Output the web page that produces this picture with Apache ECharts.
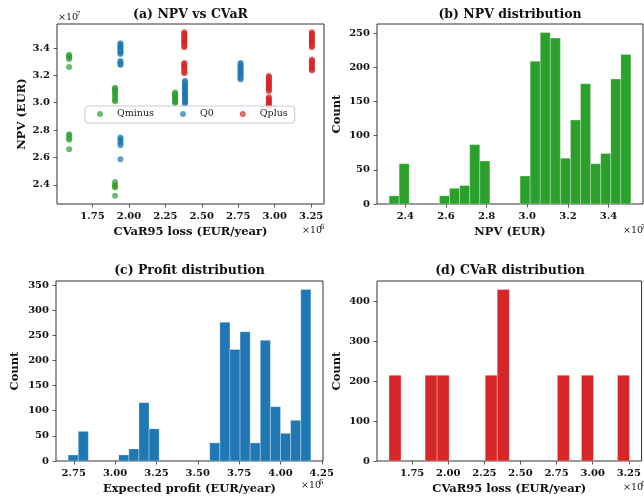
<!DOCTYPE html>
<html>
<head>
<meta charset="utf-8">
<script src="https://cdn.jsdelivr.net/npm/echarts@6/dist/echarts.min.js"></script>
<style>
  html, body { margin: 0; padding: 0; background: #fff; }
  #chart { width: 644px; height: 497px; }
</style>
</head>
<body>
<div id="chart"></div>
<script>
// ---------------- DATA (CVaR in 1e6 EUR/year, NPV in 1e7 EUR, profit in 1e6 EUR/year) ----------------
const seriesNames = ['Qminus', 'Q0', 'Qplus'];

const qminusPoints = [
  [1.59, 3.35], [1.59, 3.34], [1.59, 3.33], [1.59, 3.32], [1.59, 3.26],
  [1.59, 2.77], [1.59, 2.76], [1.59, 2.74], [1.59, 2.73], [1.59, 2.66],
  [1.905, 3.11], [1.905, 3.10], [1.905, 3.09], [1.905, 3.08], [1.905, 3.065],
  [1.905, 3.05], [1.905, 3.035], [1.905, 3.02], [1.905, 3.01],
  [1.905, 2.42], [1.905, 2.40], [1.905, 2.39], [1.905, 2.38], [1.905, 2.32],
  [2.317, 3.075], [2.317, 3.065], [2.317, 3.055], [2.317, 3.045], [2.317, 3.035],
  [2.317, 3.025], [2.317, 3.015], [2.317, 3.005], [2.317, 2.997]
];
const q0Points = [
  [1.942, 3.435], [1.942, 3.425], [1.942, 3.415], [1.942, 3.405], [1.942, 3.395],
  [1.942, 3.385], [1.942, 3.375], [1.942, 3.365], [1.942, 3.355],
  [1.942, 3.305], [1.942, 3.295], [1.942, 3.285], [1.942, 3.275],
  [1.942, 2.745], [1.942, 2.735], [1.942, 2.72], [1.942, 2.705], [1.942, 2.69], [1.942, 2.587],
  [2.385, 3.16], [2.385, 3.15], [2.385, 3.14], [2.385, 3.13], [2.385, 3.12], [2.385, 3.11],
  [2.385, 3.10], [2.385, 3.09], [2.385, 3.08], [2.385, 3.07], [2.385, 3.06], [2.385, 3.05],
  [2.385, 3.04], [2.385, 3.03], [2.385, 3.02], [2.385, 3.01], [2.385, 3.00], [2.385, 2.995],
  [2.766, 3.29], [2.766, 3.28], [2.766, 3.27], [2.766, 3.26], [2.766, 3.25], [2.766, 3.24],
  [2.766, 3.23], [2.766, 3.22], [2.766, 3.21], [2.766, 3.20], [2.766, 3.19], [2.766, 3.18], [2.766, 3.17]
];
const qplusPoints = [
  [2.38, 3.515], [2.38, 3.505], [2.38, 3.495], [2.38, 3.485], [2.38, 3.475], [2.38, 3.465],
  [2.38, 3.455], [2.38, 3.445], [2.38, 3.435], [2.38, 3.425], [2.38, 3.415], [2.38, 3.405],
  [2.38, 3.29], [2.38, 3.28], [2.38, 3.27], [2.38, 3.26], [2.38, 3.25], [2.38, 3.24], [2.38, 3.225], [2.38, 3.215],
  [2.96, 3.195], [2.96, 3.185], [2.96, 3.175], [2.96, 3.165], [2.96, 3.155], [2.96, 3.145],
  [2.96, 3.135], [2.96, 3.125], [2.96, 3.115], [2.96, 3.105], [2.96, 3.095], [2.96, 3.085],
  [2.96, 3.04], [2.96, 3.03], [2.96, 3.02], [2.96, 3.01], [2.96, 3.00], [2.96, 2.99], [2.96, 2.98], [2.96, 2.97],
  [3.255, 3.515], [3.255, 3.505], [3.255, 3.495], [3.255, 3.485], [3.255, 3.475], [3.255, 3.465],
  [3.255, 3.455], [3.255, 3.445], [3.255, 3.435], [3.255, 3.425], [3.255, 3.415], [3.255, 3.405],
  [3.255, 3.315], [3.255, 3.305], [3.255, 3.295], [3.255, 3.285], [3.255, 3.275], [3.255, 3.265],
  [3.255, 3.255], [3.255, 3.245], [3.255, 3.235]
];

// Histograms: data range (first/last bin edge) and counts per bin
const npvRange = [2.32, 3.51];
const npvCounts = [12, 59, 0, 0, 0, 12, 23, 27, 87, 63, 0, 0, 0, 41, 209, 251, 243, 67, 123, 176, 59, 74, 183, 219];
const profitRange = [2.716, 4.184];
const profitCounts = [12, 59, 0, 0, 0, 12, 24, 116, 64, 0, 0, 0, 0, 0, 36, 276, 222, 257, 36, 240, 108, 55, 81, 341];
const cvarRange = [1.59, 3.255];
const cvarCounts = [215, 0, 0, 215, 215, 0, 0, 0, 215, 430, 0, 0, 0, 0, 215, 0, 215, 0, 0, 215];

// Tick labels
const aXTicks = [1.75, 2.00, 2.25, 2.50, 2.75, 3.00, 3.25];
const aYTicks = [2.4, 2.6, 2.8, 3.0, 3.2, 3.4];
const bXTicks = [2.4, 2.6, 2.8, 3.0, 3.2, 3.4];
const bYTicks = [0, 50, 100, 150, 200, 250];
const cXTicks = [2.75, 3.00, 3.25, 3.50, 3.75, 4.00, 4.25];
const cYTicks = [0, 50, 100, 150, 200, 250, 300, 350];
const dXTicks = [1.75, 2.00, 2.25, 2.50, 2.75, 3.00, 3.25];
const dYTicks = [0, 100, 200, 300, 400];

// ---------------- BUILD ----------------
const FONT = 'DejaVu Serif';
const C_GREEN = '#2ca02c', C_BLUE = '#1f77b4', C_RED = '#d62728';
const TICK_FS = 10;
const NAME_FS = 11.5;

function pad(lo, hi) { const m = (hi - lo) * 0.05; return [lo - m, hi + m]; }
function edges(range, n) {
  const w = (range[1] - range[0]) / n;
  return Array.from({ length: n }, (_, i) => [range[0] + i * w, range[0] + (i + 1) * w]);
}
function histData(range, counts) {
  const e = edges(range, counts.length);
  return counts.map((c, i) => [e[i][0], e[i][1], c]);
}

const allPts = qminusPoints.concat(q0Points, qplusPoints);
const aX = pad(Math.min(...allPts.map(p => p[0])), Math.max(...allPts.map(p => p[0])));
const aY = pad(Math.min(...allPts.map(p => p[1])), Math.max(...allPts.map(p => p[1])));

const grids = [
  { left: 57, top: 24, width: 267, height: 180 },
  { left: 377, top: 24, width: 266, height: 180 },
  { left: 56, top: 281, width: 267, height: 180 },
  { left: 377, top: 281, width: 266, height: 180 }
].map(g => Object.assign({ show: true, borderColor: '#333', borderWidth: 1, containLabel: false, backgroundColor: 'transparent' }, g));

function valueAxis(gridIndex, range, ticks, dec, name, nameGap) {
  return {
    type: 'value', gridIndex,
    min: range[0], max: range[1],
    axisLine: { show: false },
    axisTick: { show: true, inside: false, length: 3.5, customValues: ticks, lineStyle: { color: '#333', width: 0.8 } },
    axisLabel: {
      show: true, customValues: ticks, margin: 7,
      formatter: v => dec < 0 ? String(Math.round(v)) : v.toFixed(dec),
      fontFamily: FONT, fontWeight: 'bold', fontSize: TICK_FS, color: '#111',
      showMinLabel: true, showMaxLabel: true, hideOverlap: false
    },
    splitLine: { show: false },
    name, nameLocation: 'middle', nameGap,
    nameTextStyle: { fontFamily: FONT, fontWeight: 'bold', fontSize: NAME_FS, color: '#111' }
  };
}

const bX = pad(npvRange[0], npvRange[1]);
const cX = pad(profitRange[0], profitRange[1]);
const dX = pad(cvarRange[0], cvarRange[1]);

const xAxes = [
  valueAxis(0, aX, aXTicks, 2, 'CVaR95 loss (EUR/year)', 22),
  valueAxis(1, bX, bXTicks, 1, 'NPV (EUR)', 22),
  valueAxis(2, cX, cXTicks, 2, 'Expected profit (EUR/year)', 22),
  valueAxis(3, dX, dXTicks, 2, 'CVaR95 loss (EUR/year)', 22)
];
const yAxes = [
  valueAxis(0, aY, aYTicks, 1, 'NPV (EUR)', 29),
  valueAxis(1, [0, Math.max(...npvCounts) * 1.05], bYTicks, -1, 'Count', 34),
  valueAxis(2, [0, Math.max(...profitCounts) * 1.05], cYTicks, -1, 'Count', 35),
  valueAxis(3, [0, Math.max(...cvarCounts) * 1.05], dYTicks, -1, 'Count', 34)
];

function histSeries(idx, range, counts, color) {
  return {
    type: 'custom', xAxisIndex: idx, yAxisIndex: idx,
    data: histData(range, counts),
    encode: { x: [0, 1], y: 2 },
    silent: true,
    renderItem: function (params, api) {
      const c = api.value(2);
      if (!c) return null;
      const p0 = api.coord([api.value(0), c]);
      const p1 = api.coord([api.value(1), 0]);
      return {
        type: 'rect',
        shape: { x: p0[0], y: p0[1], width: p1[0] - p0[0], height: p1[1] - p0[1] },
        style: { fill: color, stroke: 'rgba(255,255,255,0.6)', lineWidth: 0.5 }
      };
    }
  };
}

function scatterSeries(name, pts, color) {
  return {
    type: 'scatter', name, xAxisIndex: 0, yAxisIndex: 0,
    data: pts, symbol: 'circle', symbolSize: 6,
    itemStyle: { color, opacity: 0.7 },
    emphasis: { disabled: true }
  };
}

function txt(x, y, text, opts) {
  return {
    type: 'text', x, y, silent: true,
    style: Object.assign({ text, fontFamily: FONT, fontSize: 12.5, fontWeight: 'bold', fill: '#111', align: 'center', verticalAlign: 'middle' }, opts || {})
  };
}
function offsetText(xRight, y, exp, alignLeft) {
  // "×10" followed by a superscript exponent
  const mainW = 18;
  const xStart = alignLeft ? xRight : xRight - mainW - 5;
  return [
    txt(xStart, y, '×10', { fontWeight: 'normal', fontSize: 9.5, align: 'left' }),
    txt(xStart + mainW, y - 4, exp, { fontWeight: 'normal', fontSize: 7, align: 'left' })
  ];
}

const graphics = [
  txt(190.5, 15, '(a) NPV vs CVaR'),
  txt(510, 15, '(b) NPV distribution'),
  txt(189.5, 271, '(c) Profit distribution'),
  txt(510, 271, '(d) CVaR distribution')
].concat(
  offsetText(58, 18, '7', true),
  offsetText(325, 231, '6'),
  offsetText(646, 231, '7'),
  offsetText(324, 486, '6'),
  offsetText(646, 488, '6')
);

const option = {
  animation: false,
  backgroundColor: '#fff',
  grid: grids,
  xAxis: xAxes,
  yAxis: yAxes,
  legend: {
    data: seriesNames, left: 85, top: 106, orient: 'horizontal',
    icon: 'circle', itemWidth: 24, itemHeight: 6, itemGap: 26,
    padding: [3, 7, 4, 12], borderColor: '#ccc', borderWidth: 1, borderRadius: 3,
    backgroundColor: 'rgba(255,255,255,0.85)',
    textStyle: { fontFamily: FONT, fontSize: 9.5, color: '#222' },
    selectedMode: false
  },
  graphic: graphics,
  series: [
    scatterSeries(seriesNames[0], qminusPoints, C_GREEN),
    scatterSeries(seriesNames[1], q0Points, C_BLUE),
    scatterSeries(seriesNames[2], qplusPoints, C_RED),
    histSeries(1, npvRange, npvCounts, C_GREEN),
    histSeries(2, profitRange, profitCounts, C_BLUE),
    histSeries(3, cvarRange, cvarCounts, C_RED)
  ]
};

const chart = echarts.init(document.getElementById('chart'), null, { renderer: 'canvas' });
chart.setOption(option);
</script>
</body>
</html>
